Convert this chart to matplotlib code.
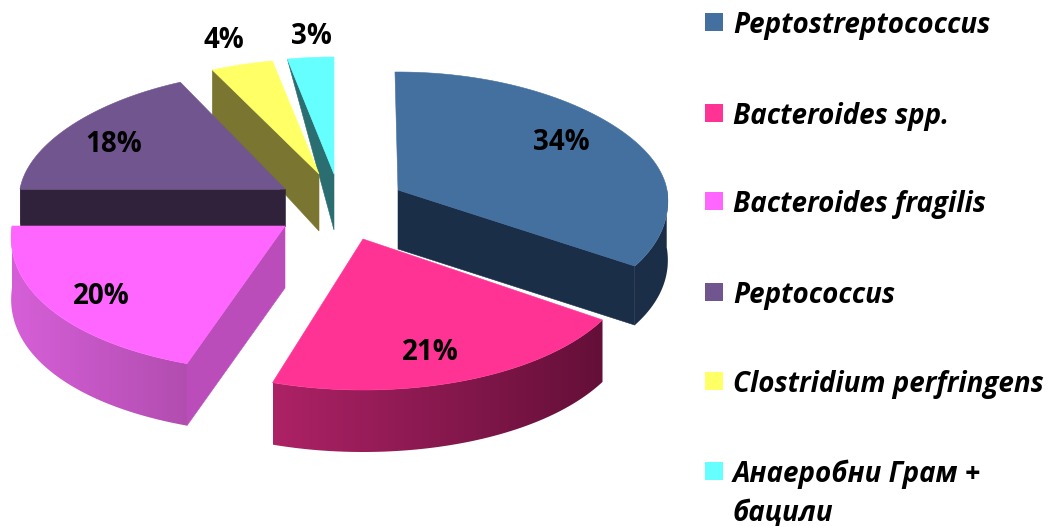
"""Exploded 3D-look pie of anaerobe species shares, drawn in pixel coordinates."""
import matplotlib
matplotlib.use("Agg")
import matplotlib.pyplot as plt
import numpy as np
from matplotlib.colors import LinearSegmentedColormap
from matplotlib.patches import Polygon, Rectangle

FONT = ["Open Sans", "Noto Sans", "DejaVu Sans"]

species = ["Peptostreptococcus", "Bacteroides spp.", "Bacteroides fragilis",
           "Peptococcus", "Clostridium perfringens", "Анаеробни Грам +\nбацили"]
shares = [34, 21, 20, 18, 4, 3]

# one entry per slice, same order as the data
top_colors = ["#44709f", "#ff3394", "#ff66ff", "#71558f", "#ffff66", "#66ffff"]
cut_colors = ["#1b2e47", "#640f38", "#bb4dbb", "#31223b", "#7a7530", "#2b6e72"]
wall_left = ["#1b2e47", "#ad2266", "#d65fd8", "#31223b", "#7a7530", "#2b6e72"]
wall_right = ["#1b2e47", "#640f38", "#b24db0", "#31223b", "#7a7530", "#2b6e72"]
apex_x = [398, 363, 285, 285, 319, 334]
apex_y = [190, 239, 226, 189, 174, 174]
radius_x = [269, 272, 273, 265, 270, 270]
radius_back = [118, 118, 118, 118, 115, 117]
radius_front = [142, 151, 146, 118, 118, 118]
depth = [59, 62, 62, 37, 57, 56]
start_nudge = [-0.7, 0, 1.5, 0, 0, 0]  # degrees, exploded slices don't line up exactly
end_nudge = [0, 0, 0, 0, 0, 0]
label_x = [561, 430, 101, 114, 224, 311]
label_y = [142, 352, 296, 144, 41, 37]
legend_y = [22, 113, 201, 292, 381, 471]

PERSPECTIVE = 0.08  # near side of the pie is drawn wider
LEGEND_X = 705
LEGEND_BOX = 18
LEGEND_TEXT_X = 733
LEGEND_LINE = 39


def rim(i, deg):
    """Outer rim points of slice i at angles deg (clockwise from 12 o'clock)."""
    t = np.radians(deg)
    c = np.cos(t)
    grow = 1 - PERSPECTIVE * c
    x = apex_x[i] + radius_x[i] * np.sin(t) * grow
    y = apex_y[i] - np.where(c > 0, radius_back[i], radius_front[i]) * c
    return x, y


def draw_wall(ax, i, deg, x, y):
    """Outer wall below the front of the rim, shaded left to right."""
    front = np.cos(np.radians(deg)) < 0.03
    if front.sum() < 2:
        return
    xs, ys = x[front], y[front]
    d = depth[i]
    pts = np.r_[np.c_[xs, ys], np.c_[xs[::-1], ys[::-1] + d]]
    poly = Polygon(pts, fc="none", ec="none")
    ax.add_patch(poly)
    cmap = LinearSegmentedColormap.from_list("wall", [wall_left[i], wall_right[i]])
    im = ax.imshow(np.linspace(0, 1, 256)[None, :], cmap=cmap, aspect="auto",
                   extent=(xs.min(), xs.max(), (ys + d).max(), ys.min()))
    im.set_clip_path(poly)


def cut_face(ax, i, px, py, d0, d1):
    ax.add_patch(Polygon([(apex_x[i], apex_y[i]), (px, py), (px, py + d0),
                          (apex_x[i], apex_y[i] + d1)],
                         fc=cut_colors[i], ec=cut_colors[i], lw=0.4))


def draw_top(ax, i, x, y):
    pts = [(apex_x[i], apex_y[i])] + list(zip(x, y))
    ax.add_patch(Polygon(pts, fc=top_colors[i], ec=top_colors[i], lw=0.4))


fig = plt.figure(figsize=(10.53, 5.26), dpi=100)
ax = fig.add_axes([0, 0, 1, 1])

edges = np.cumsum([0] + shares) / 100 * 360
angles = [(edges[i] + start_nudge[i], edges[i + 1] + end_nudge[i]) for i in range(6)]

# painter's order: far slices first
for i in [5, 4, 3, 0, 2, 1]:
    t0, t1 = angles[i]
    deg = np.linspace(t0, t1, 120)
    x, y = rim(i, deg)
    d = depth[i]
    draw_wall(ax, i, deg, x, y)
    if i == 5:   # teal sliver tapers to nothing at the rim
        cut_face(ax, i, x[0], y[0], 0, d)
    elif i == 4:
        cut_face(ax, i, x[0], y[0], d * 0.8, d)
    elif i == 3:
        cut_face(ax, i, x[0], y[0], d, d)
    elif i in (0, 2):  # trailing cut for blue, leading cut for violet
        k = -1 if i == 0 else 0
        cut_face(ax, i, x[k], y[k], d, d)
    draw_top(ax, i, x, y)

for i, s in enumerate(shares):
    ax.text(label_x[i], label_y[i], f"{s}%", ha="center", va="center", color="black",
            family=FONT, weight="bold", fontsize=20)

for i, name in enumerate(species):
    ax.add_patch(Rectangle((LEGEND_X, legend_y[i] - LEGEND_BOX / 2), LEGEND_BOX, LEGEND_BOX,
                           fc=top_colors[i], ec="none"))
    for j, line in enumerate(name.split("\n")):
        ax.text(LEGEND_TEXT_X, legend_y[i] + j * LEGEND_LINE, line, ha="left", va="center_baseline",
                color="black", family=FONT, weight="bold", style="italic", fontsize=20)

ax.set_xlim(0, 1053)
ax.set_ylim(526, 0)
ax.axis("off")

fig.savefig("out.png", dpi=100, facecolor="white")
